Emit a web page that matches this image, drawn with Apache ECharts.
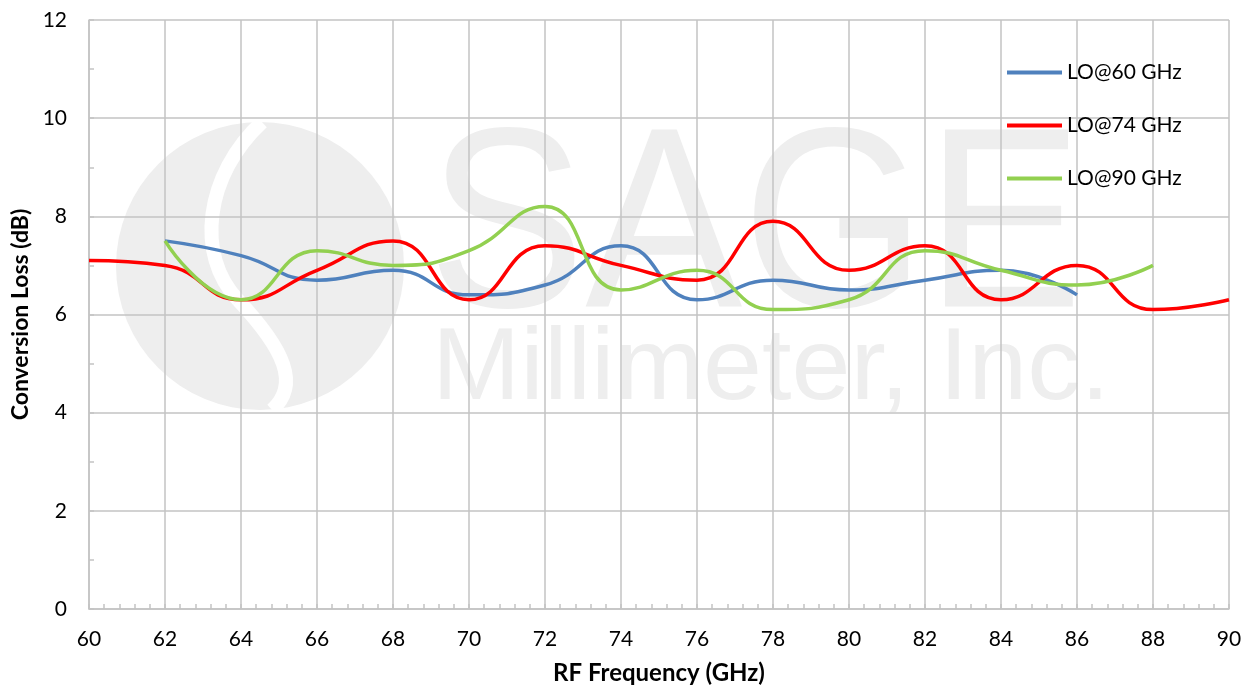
<!DOCTYPE html>
<html>
<head>
<meta charset="utf-8">
<script src="https://cdn.jsdelivr.net/npm/echarts@6/dist/echarts.min.js"></script>
<style>
  html, body { margin: 0; padding: 0; background: #fff; }
  #chart { width: 1246px; height: 685px; }
</style>
</head>
<body>
<div id="chart"></div>
<script>
// RF frequency (GHz) and conversion loss (dB)
var freqLO60 = [62, 64, 66, 68, 70, 72, 74, 76, 78, 80, 82, 84, 86];
var lossLO60 = [7.5, 7.2, 6.7, 6.9, 6.4, 6.6, 7.4, 6.3, 6.7, 6.5, 6.7, 6.9, 6.4];

var freqLO74 = [60, 62, 64, 66, 68, 70, 72, 74, 76, 78, 80, 82, 84, 86, 88, 90];
var lossLO74 = [7.1, 7.0, 6.3, 6.9, 7.5, 6.3, 7.4, 7.0, 6.7, 7.9, 6.9, 7.4, 6.3, 7.0, 6.1, 6.3];

var freqLO90 = [62, 64, 66, 68, 70, 72, 74, 76, 78, 80, 82, 84, 86, 88];
var lossLO90 = [7.5, 6.3, 7.3, 7.0, 7.3, 8.2, 6.5, 6.9, 6.1, 6.3, 7.3, 6.9, 6.6, 7.0];

var seriesNames = ['LO@60 GHz', 'LO@74 GHz', 'LO@90 GHz'];
var seriesColors = ['#4f81bd', '#ff0000', '#92d050'];

function pairs(xs, ys) {
    return xs.map(function(x, i) { return [x, ys[i]]; });
}

var font = 'Lato, "Open Sans", sans-serif';
var gridColor = '#c3c3c3';
var wmColor = '#eeeeee';

var chart = echarts.init(document.getElementById('chart'));

var seriesData = [pairs(freqLO60, lossLO60), pairs(freqLO74, lossLO74), pairs(freqLO90, lossLO90)];

chart.setOption({
    animation: false,
    backgroundColor: '#fff',
    grid: { left: 89, right: 17, top: 20, bottom: 76, outerBoundsMode: 'none' },
    // faint company watermark behind the plot
    graphic: [
        { type: 'circle', z: -10, shape: { cx: 260, cy: 266, r: 144 }, style: { fill: wmColor } },
        { type: 'bezierCurve', z: -9,
          shape: { x1: 262, y1: 122, cpx1: 205, cpy1: 175, cpx2: 195, cpy2: 255, x2: 238, y2: 300 },
          style: { fill: null, stroke: '#fff', lineWidth: 14 } },
        { type: 'bezierCurve', z: -9,
          shape: { x1: 238, y1: 300, cpx1: 285, cpy1: 350, cpx2: 300, cpy2: 385, x2: 272, y2: 410 },
          style: { fill: null, stroke: '#fff', lineWidth: 14 } },
        { type: 'text', z: -10, x: 428, y: 107, scaleX: 0.917,
          style: { text: 'SAGE', fill: wmColor, font: '257px "Liberation Sans", Arial, sans-serif', verticalAlign: 'top' } },
        { type: 'text', z: -10, x: 432, y: 320, scaleX: 1.04,
          style: { text: 'Millimeter, Inc.', fill: wmColor, font: '102px "Liberation Sans", Arial, sans-serif', verticalAlign: 'top' } }
    ],
    legend: {
        orient: 'vertical',
        left: 1007,
        top: 62,
        padding: 0,
        itemWidth: 55,
        itemHeight: 4,
        itemGap: 32,
        icon: 'rect',
        data: seriesNames,
        textStyle: { fontFamily: font, fontSize: 21, color: '#000', padding: [0, 0, 0, 0] }
    },
    xAxis: {
        type: 'value',
        min: 60,
        max: 90,
        interval: 2,
        name: 'RF Frequency (GHz)',
        nameLocation: 'middle',
        nameGap: 52,
        nameTextStyle: { fontFamily: font, fontSize: 24, fontWeight: 'bold', color: '#000' },
        axisLine: { show: true, lineStyle: { color: gridColor, width: 1.5 } },
        axisTick: { show: true, inside: true, length: 5, lineStyle: { color: gridColor, width: 1.5 } },
        minorTick: { show: true, splitNumber: 5, length: 5, lineStyle: { color: gridColor, width: 1.5 } },
        axisLabel: { fontFamily: font, fontSize: 21, color: '#000', margin: 20 },
        splitLine: { show: true, lineStyle: { color: gridColor, width: 1.5 } }
    },
    yAxis: {
        type: 'value',
        min: 0,
        max: 12,
        interval: 2,
        name: 'Conversion Loss (dB)',
        nameLocation: 'middle',
        nameGap: 55,
        nameTextStyle: { fontFamily: font, fontSize: 23, fontWeight: 'bold', color: '#000' },
        axisLine: { show: true, lineStyle: { color: gridColor, width: 1.5 } },
        axisTick: { show: true, inside: true, length: 5, lineStyle: { color: gridColor, width: 1.5 } },
        minorTick: { show: true, splitNumber: 2, length: 5, lineStyle: { color: gridColor, width: 1.5 } },
        axisLabel: { fontFamily: font, fontSize: 21, color: '#000', margin: 22 },
        splitLine: { show: true, lineStyle: { color: gridColor, width: 1.5 } }
    },
    series: seriesNames.map(function(name, i) {
        return {
            name: name,
            type: 'line',
            data: seriesData[i],
            smooth: 0.5,
            showSymbol: false,
            symbol: 'none',
            color: seriesColors[i],
            lineStyle: { color: seriesColors[i], width: 3.5 },
            z: 2 + i
        };
    })
});
</script>
</body>
</html>
